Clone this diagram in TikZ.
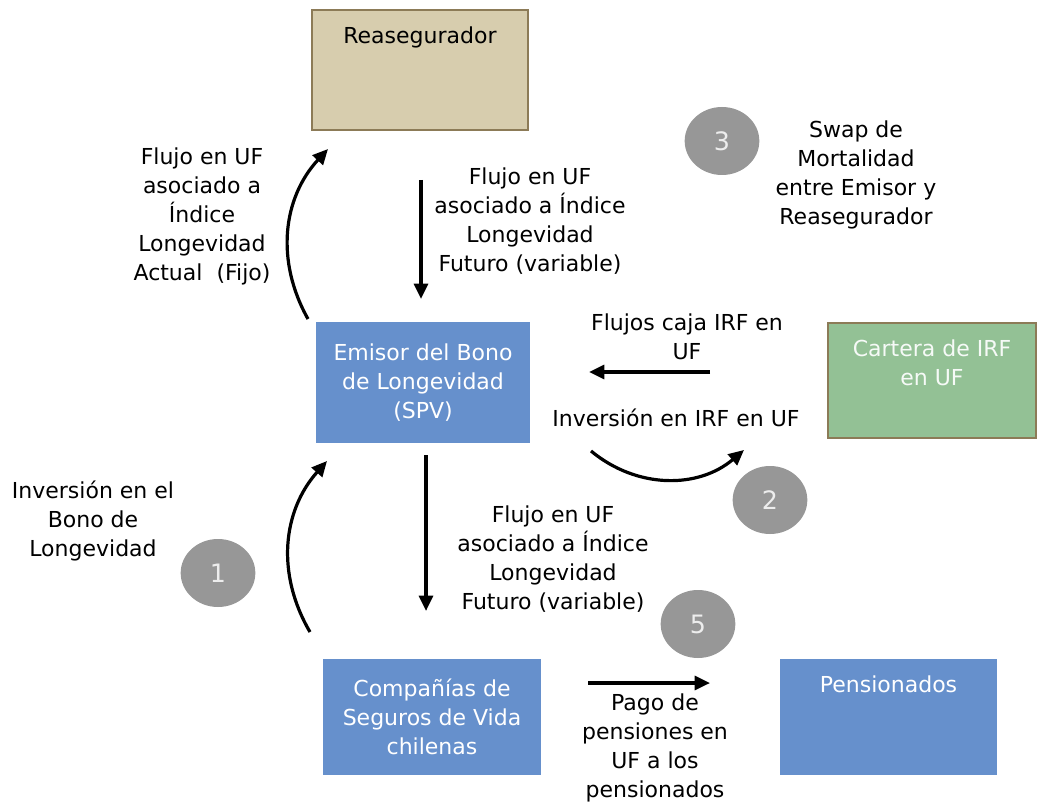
\documentclass[tikz,border=0pt]{standalone}
\usepackage{fontspec}
\setmainfont{DejaVu Sans}
\usetikzlibrary{arrows.meta,positioning,shapes.geometric}

\definecolor{entblue}{HTML}{6690CC}
\definecolor{reatan}{HTML}{D7CDAE}
\definecolor{tanedge}{HTML}{8C7B57}
\definecolor{irfgreen}{HTML}{93C195}
\definecolor{pasogray}{HTML}{979797}

\begin{document}
\begin{tikzpicture}[x=0.75pt, y=-0.75pt,
    every node/.style={font=\fontsize{16.5pt}{21.75pt}\selectfont, align=center},
    entity/.style={rectangle, fill=entblue, text=white, inner sep=0pt,
                   minimum width=162pt, minimum height=88pt},
    tanbox/.style={rectangle, draw=tanedge, thick, fill=reatan, inner sep=0pt},
    greenbox/.style={rectangle, draw=tanedge, thick, fill=irfgreen, inner sep=0pt},
    paso/.style={ellipse, fill=pasogray, text=white!93!black, inner sep=0pt,
                 minimum width=56pt, minimum height=51pt,
                 font=\fontsize{19pt}{21pt}\selectfont},
    flow/.style={line width=2.4pt, -{Triangle[length=11.5pt, width=10.5pt]}}
]
\useasboundingbox (0,0) rectangle (1038,805);

% Entities
\node[tanbox, minimum width=162pt, minimum height=90pt] (rea) at (420,70) {};
\node[anchor=north] (reaT) at (420,22) {Reasegurador};
\node[entity, minimum width=160.5pt, minimum height=90.75pt] (emisor) at (423,382.5)
    {Emisor del Bono\\de Longevidad\\(SPV)};
\node[greenbox, minimum width=156pt, minimum height=86.25pt] (irf) at (932,380.5) {};
\node[anchor=north, text=white!92!irfgreen] (irfT) at (932,335) {Cartera de IRF\\en UF};
\node[entity, minimum width=163.5pt, minimum height=87pt] (cias) at (432,717)
    {Compañías de\\Seguros de Vida\\chilenas};
\node[entity, minimum width=162.75pt, minimum height=87pt] (pens) at (888.5,717) {};
\node[anchor=north, text=white] (pensT) at (888.5,671) {Pensionados};

% Steps
\node[paso] (p3) at (722,141) {3};
\node[paso] (p2) at (770,500) {2};
\node[paso] (p1) at (218,573) {1};
\node[paso] (p5) at (698,624) {5};

% Arrow ends
\coordinate (a1s) at (308,319);
\coordinate (a1e) at (328,149);
\coordinate (a2s) at (421,180);
\coordinate (a2e) at (421,299);
\coordinate (a3s) at (710,372);
\coordinate (a3e) at (589,372);
\coordinate (a4s) at (591,451);
\coordinate (a4e) at (744,450);
\coordinate (a5s) at (310,632);
\coordinate (a5e) at (327,461);
\coordinate (a6s) at (426,455);
\coordinate (a6e) at (426,611);
\coordinate (a7s) at (588,683);
\coordinate (a7e) at (710,683);

% Arrows
\draw[flow] (a1s) to[bend left=36] (a1e);
\draw[flow] (a2s) -- (a2e);
\draw[flow] (a3s) -- (a3e);
\draw[flow] (a4s) to[bend right=40] (a4e);
\draw[flow] (a5s) to[bend left=36] (a5e);
\draw[flow] (a6s) -- (a6e);
\draw[flow] (a7s) -- (a7e);

% Labels
\node (fijo) at (202,216) {Flujo en UF\\asociado a\\Índice\\Longevidad\\Actual~~(Fijo)};
\node (futA) at (530,221) {Flujo en UF\\asociado a Índice\\Longevidad\\Futuro (variable)};
\node (caja) at (687,337) {Flujos caja IRF en\\UF};
\node (invIRF) at (676,418) {Inversión en IRF en UF};
\node (swap) at (856,175) {Swap de\\Mortalidad\\entre Emisor y\\Reasegurador};
\node (invBono) at (93,521) {Inversión en el\\Bono de\\Longevidad};
\node (futB) at (553,559) {Flujo en UF\\asociado a Índice\\Longevidad\\Futuro (variable)};
\node (pago) at (655,748) {Pago de\\pensiones en\\UF a los\\pensionados};

\end{tikzpicture}
\end{document}
